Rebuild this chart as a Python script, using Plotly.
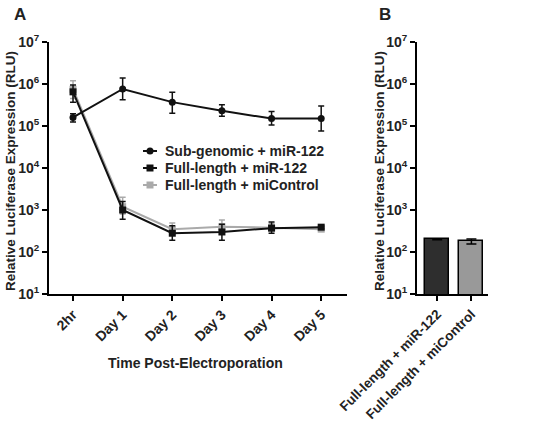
import plotly.graph_objects as go

time_labels = ["2hr", "Day 1", "Day 2", "Day 3", "Day 4", "Day 5"]
sub_mean = [1.6e5, 7.6e5, 3.7e5, 2.3e5, 1.5e5, 1.5e5]
sub_plus = [3.5e4, 6.3e5, 2.7e5, 9e4, 7e4, 1.5e5]
sub_minus = [3.5e4, 3.4e5, 1.7e5, 6e4, 4.5e4, 7.4e4]

fl_mean = [6.5e5, 1.0e3, 2.8e2, 3.0e2, 3.7e2, 3.9e2]
fl_plus = [3.0e5, 6e2, 1.4e2, 1.6e2, 1.5e2, 3e1]
fl_minus = [2.8e5, 4e2, 9e1, 1.1e2, 9e1, 3e1]

ctl_mean = [7.5e5, 1.2e3, 3.5e2, 4.0e2, 3.8e2, 3.5e2]
ctl_plus = [4.5e5, 8e2, 1.4e2, 1.8e2, 1e2, 3e1]
ctl_minus = [3.0e5, 4e2, 8e1, 1e2, 6e1, 4e1]

bar_labels = ["Full-length + miR-122", "Full-length + miControl"]
bar_vals = [2.0e2, 1.8e2]
bar_err = [5, 25]

ytick_vals = [1e1, 1e2, 1e3, 1e4, 1e5, 1e6, 1e7]
ytick_text = ["10<sup>%d</sup>" % i for i in range(1, 8)]

FONT = "Liberation Sans"
TXT = "#222222"
W, H = 533, 425
xs = list(range(len(time_labels)))

series = [
    ("Sub-genomic + miR-122", sub_mean, sub_plus, sub_minus, "#111111", "circle"),
    ("Full-length + miR-122", fl_mean, fl_plus, fl_minus, "#111111", "square"),
    ("Full-length + miControl", ctl_mean, ctl_plus, ctl_minus, "#aaaaaa", "square"),
]

fig = go.Figure()

# draw gray series first so black lines sit on top
for name, y, plus, minus, color, symbol in reversed(series):
    fig.add_trace(go.Scatter(
        x=xs, y=y, name=name, mode="lines+markers",
        line=dict(color=color, width=2),
        marker=dict(color=color, symbol=symbol, size=7),
        error_y=dict(type="data", array=plus, arrayminus=minus, symmetric=False,
                     color=color, thickness=1.5, width=3),
        showlegend=False, xaxis="x", yaxis="y",
    ))

fig.add_trace(go.Bar(
    x=[0, 1], y=bar_vals, width=0.7,
    marker=dict(color=["#2e2e2e", "#999999"], line=dict(color="black", width=1.5)),
    error_y=dict(type="data", array=bar_err, color="black", thickness=1.5, width=5),
    showlegend=False, xaxis="x2", yaxis="y2",
))

yax = dict(type="log", range=[1, 7], tickvals=ytick_vals, ticktext=ytick_text,
           showgrid=False, zeroline=False, showline=True, linecolor="black", linewidth=2,
           ticks="outside", ticklen=5, tickwidth=2, tickcolor="black", automargin=False,
           tickfont=dict(family=FONT, size=14, color=TXT, weight="bold"),
           domain=[0.3082, 0.9012])

xbase = dict(showgrid=False, zeroline=False, showline=True, linecolor="black", linewidth=2,
             ticks="outside", ticklen=5, tickwidth=2, tickcolor="black", tickangle=-45,
             automargin=False,
             tickfont=dict(family=FONT, size=14, color=TXT, weight="bold"))

fig.update_layout(
    template="none",
    width=W, height=H, margin=dict(l=0, r=0, t=0, b=0, autoexpand=False),
    paper_bgcolor="white", plot_bgcolor="white",
    xaxis=dict(xbase, domain=[49/W, 347/W], range=[-0.484, 5.52],
               tickvals=xs, ticktext=time_labels, anchor="y"),
    yaxis=dict(yax, anchor="x"),
    xaxis2=dict(xbase, domain=[417/W, 488/W], range=[-0.59, 1.485],
                tickvals=[0, 1], ticktext=bar_labels, anchor="y2",
                tickfont=dict(family=FONT, size=13.5, color=TXT, weight="bold")),
    yaxis2=dict(yax, anchor="x2"),
    showlegend=False,
    bargap=0,
)

annots = [
    dict(text="<b>A</b>", x=20/W, y=1-15/H, font=dict(size=17)),
    dict(text="<b>B</b>", x=385/W, y=1-15/H, font=dict(size=17)),
    dict(text="<b>Time Post-Electroporation</b>", x=195/W, y=1-363/H, font=dict(size=14)),
    dict(text="<b>Relative Luciferase Expression (RLU)</b>", x=10/W, y=1-171/H,
         textangle=-90, font=dict(size=13.5)),
    dict(text="<b>Relative Luciferase Expression (RLU)</b>", x=379/W, y=1-171/H,
         textangle=-90, font=dict(size=13.5)),
]
for a in annots:
    a["font"].update(family=FONT, color=TXT)
    fig.add_annotation(xref="paper", yref="paper", xanchor="center", yanchor="middle",
                       showarrow=False, **a)

# custom compact legend
leg_x0, leg_y0, leg_dy = 143, 151, 17
for i, (name, _, _, _, color, symbol) in enumerate(series):
    yc = leg_y0 + i * leg_dy
    fig.add_shape(type="line", xref="paper", yref="paper",
                  x0=leg_x0/W, x1=(leg_x0+14)/W, y0=1-yc/H, y1=1-yc/H,
                  line=dict(color=color, width=2))
    kind = "circle" if symbol == "circle" else "rect"
    fig.add_shape(type=kind, xref="paper", yref="paper",
                  x0=(leg_x0+3.5)/W, x1=(leg_x0+10.5)/W, y0=1-(yc-3.5)/H, y1=1-(yc+3.5)/H,
                  fillcolor=color, line=dict(color=color, width=0))
    fig.add_annotation(xref="paper", yref="paper", x=(leg_x0+20)/W, y=1-yc/H,
                       xanchor="left", yanchor="middle", showarrow=False,
                       text="<b>%s</b>" % name,
                       font=dict(family=FONT, size=14, color=TXT))

fig.write_html("out.html")
